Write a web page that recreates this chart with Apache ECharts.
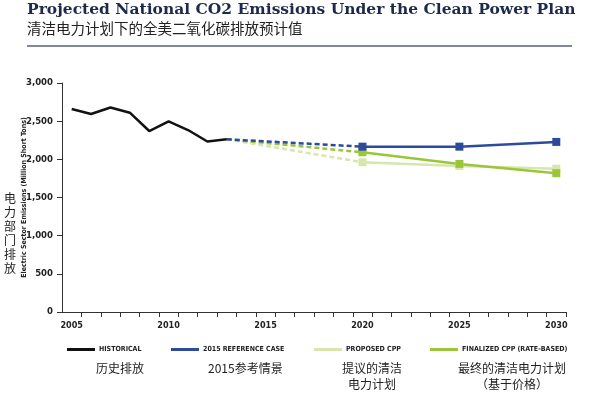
<!DOCTYPE html>
<html>
<head>
<meta charset="utf-8">
<script src="https://cdn.jsdelivr.net/npm/echarts@6/dist/echarts.min.js"></script>
<style>
    html,body{margin:0;padding:0;background:#fff;}
    #chart{width:604px;height:398px;}
</style>
</head>
<body>
<div id="chart"></div>
<script>
// data (million short tons)
const histYears = [2005, 2006, 2007, 2008, 2009, 2010, 2011, 2012, 2013];
const historical = [2659, 2594, 2679, 2611, 2371, 2496, 2384, 2234, 2263];
const projYears = [2020, 2025, 2030];
const referenceCase = [2166, 2166, 2228];
const proposedCpp = [1962, 1914, 1878];
const finalizedCpp = [2093, 1940, 1818];

const xLabelYears = [2005, 2010, 2015, 2020, 2025, 2030];
// small ticks sit half a year right of each label in the original
const xTickYears = [2005.5, 2006.5, 2007.5, 2008.5, 2009.5, 2010.5, 2011.5, 2012.5, 2013.5,
    2014.5, 2015.5, 2016.5, 2017.5, 2018.5, 2019.5, 2020.5, 2021.5, 2022.5, 2023.5,
    2024.5, 2025.5, 2026.5, 2027.5, 2028.5, 2029.5, 2030.5];
const seriesNames = ['HISTORICAL', '2015 REFERENCE CASE', 'PROPOSED CPP', 'FINALIZED CPP (RATE-BASED)'];
const zhNames = ['历史排放', '2015参考情景', '提议的清洁\n电力计划', '最终的清洁电力计划\n（基于价格）'];

const titleEn = 'Projected National CO2 Emissions Under the Clean Power Plan';
const titleZh = '清洁电力计划下的全美二氧化碳排放预计值';
const yNameEn = 'Electric Sector Emissions (Million Short Tons)';
const yNameZh = '电力部门排放';

const cBlack = '#111111';
const cBlue = '#2c4b9c';
const cGreen = '#9cc63a';
const cLight = '#d6e6ad';
const narrow = '"Liberation Sans Narrow","DejaVu Sans Condensed",Arial,sans-serif';
const cjk = '"Noto Sans CJK SC",sans-serif';

const lastHist = [histYears[histYears.length-1], historical[historical.length-1]];
const pairs = (xs, ys) => xs.map((x, i) => [x, ys[i]]);

// dashed bridge from last historical point to the first projection, then solid with squares
const scenario = (name, color, vals) => ([
    {
        name: name, type: 'line', data: [lastHist, [projYears[0], vals[0]]],
        symbol: 'none', color: color,
        lineStyle: {width: 2.5, type: [5, 3], color: color}
    },
    {
        name: name, type: 'line', data: pairs(projYears, vals),
        symbol: 'rect', symbolSize: 8, color: color,
        itemStyle: {color: color},
        lineStyle: {width: 2.5, color: color}
    }
]);

const legendPos = [67, 171, 314, 430];
const zhPos = [[96, 368, 'left'], [208, 368, 'left'], [372, 368, 'center'], [512, 368, 'center']];

const chart = echarts.init(document.getElementById('chart'));
chart.setOption({
    animation: false,
    title: [
        {text: titleEn, left: 27, top: 2, padding: 0,
         textStyle: {fontFamily: '"DejaVu Serif",serif', fontWeight: 'bold', fontSize: 15.5, color: '#1d2a4d'}},
        {text: titleZh, left: 27, top: 21, padding: 0,
         textStyle: {fontFamily: cjk, fontWeight: 'normal', fontSize: 14.5, color: '#222'}}
    ],
    grid: {left: 62, right: 38, top: 83, bottom: 86, containLabel: false},
    legend: seriesNames.map((n, i) => ({
        data: [n], left: legendPos[i], top: 346, padding: 0,
        icon: 'rect', itemWidth: 28, itemHeight: 3, itemGap: 4,
        selectedMode: false,
        textStyle: {fontFamily: narrow, fontWeight: 'bold', fontSize: 7, color: '#222', padding: [0, 0, 0, -1]}
    })),
    xAxis: {
        type: 'value', min: 2004.5, max: 2030.5,
        axisLine: {show: true, lineStyle: {color: '#333', width: 1}},
        axisTick: {show: true, length: 5, lineStyle: {color: '#333'}, customValues: xTickYears},
        axisLabel: {customValues: xLabelYears, formatter: v => String(v),
                    fontFamily: narrow, fontWeight: 'bold', fontSize: 9, color: '#222', margin: 9},
        splitLine: {show: false}
    },
    yAxis: {
        type: 'value', min: 0, max: 3000, interval: 500,
        name: yNameEn, nameLocation: 'middle', nameRotate: 90, nameGap: 34,
        nameMoveOverlap: false,
        nameTextStyle: {fontFamily: narrow, fontWeight: 'bold', fontSize: 7, color: '#222'},
        axisLine: {show: true, lineStyle: {color: '#333', width: 1}},
        axisTick: {show: true, length: 5, lineStyle: {color: '#333'}},
        axisLabel: {formatter: v => v.toLocaleString('en-US'),
                    fontFamily: narrow, fontWeight: 'bold', fontSize: 9.5, color: '#222', margin: 9},
        splitLine: {show: false}
    },
    series: [
        ...scenario(seriesNames[2], cLight, proposedCpp),
        ...scenario(seriesNames[3], cGreen, finalizedCpp),
        ...scenario(seriesNames[1], cBlue, referenceCase),
        {
            name: seriesNames[0], type: 'line', data: pairs(histYears, historical),
            symbol: 'none', color: cBlack,
            lineStyle: {width: 2.5, color: cBlack}
        }
    ],
    graphic: [
        {type: 'line', shape: {x1: 27, y1: 46, x2: 572, y2: 46},
         style: {stroke: '#566079', lineWidth: 1.5}},
        {type: 'text', left: 4, top: 191,
         style: {text: yNameZh.split('').join('\n'), font: '12px ' + cjk, lineHeight: 14, fill: '#222'}},
        ...zhNames.map((t, i) => ({
            type: 'text', x: zhPos[i][0], y: zhPos[i][1] - 8,
            style: {text: t, font: '12px ' + cjk, lineHeight: 16, fill: '#222', textAlign: zhPos[i][2]}
        }))
    ]
});
</script>
</body>
</html>
